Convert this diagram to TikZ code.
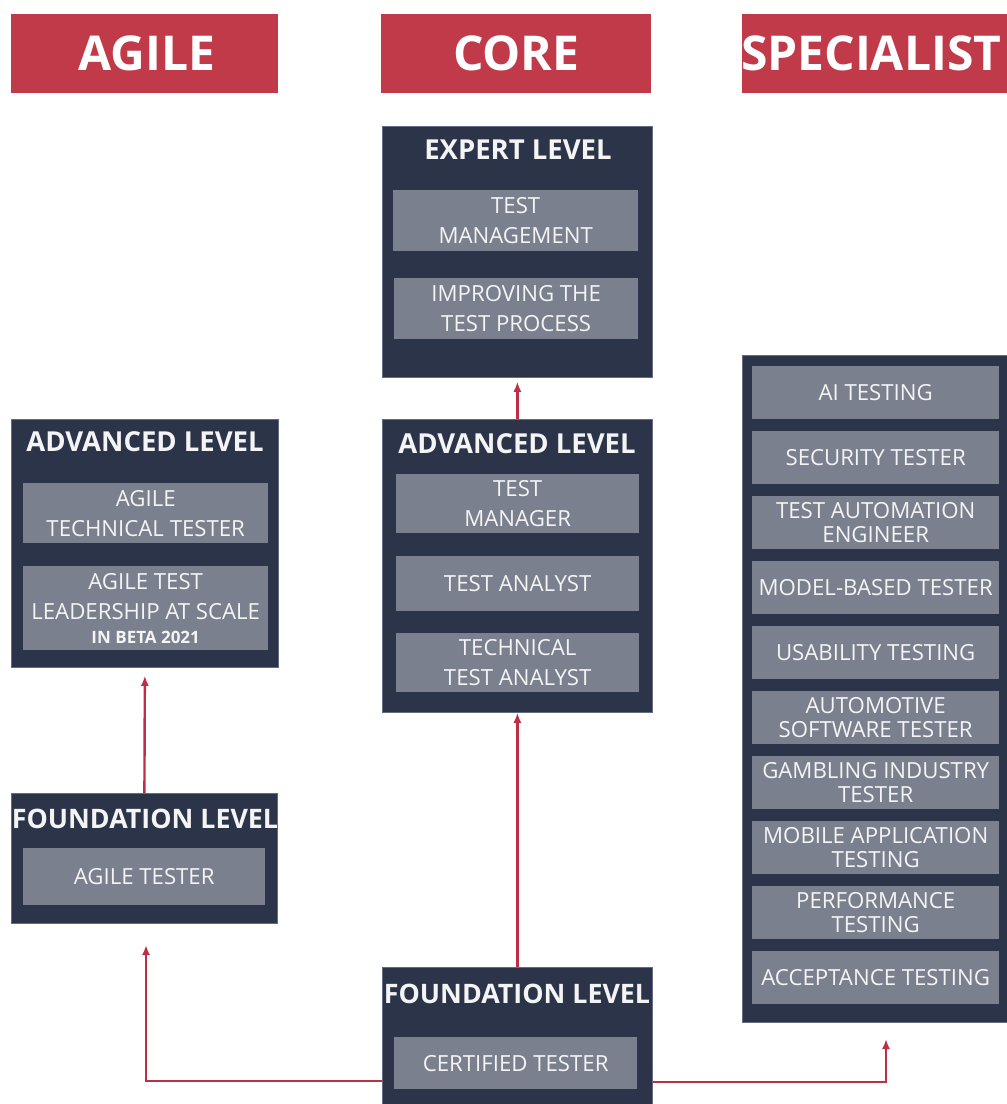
\documentclass[tikz,border=0pt]{standalone}
\usepackage{fontspec}
\setmainfont{Open Sans}
\usetikzlibrary{arrows.meta}
\definecolor{navy}{HTML}{2C3449}
\definecolor{navyedge}{HTML}{646B82}
\definecolor{slate}{HTML}{7B808E}
\definecolor{barred}{HTML}{C13A4A}
\definecolor{linkred}{HTML}{BE2E44}
\definecolor{txt}{HTML}{F4F4F4}
\begin{document}
\begin{tikzpicture}[x=1pt,y=-1pt,
  bar/.style={fill=barred, anchor=north west, inner sep=0pt, text=white,
    font=\bfseries\fontsize{48}{52}\selectfont},
  panel/.style={fill=navy, draw=navyedge, line width=0.8pt, anchor=north west, inner sep=0pt},
  hdr/.style={text=txt, inner sep=0pt, font=\bfseries\fontsize{27.5}{31}\selectfont},
  fhdr/.style={hdr, font=\bfseries\fontsize{26.8}{31}\selectfont},
  item/.style={fill=slate, anchor=north west, inner sep=0pt, text=txt, align=center,
    font=\fontsize{22.2}{30}\selectfont},
  spitem/.style={item, minimum width=247pt, minimum height=53pt,
    font=\fontsize{22.2}{24}\selectfont},
  arr/.style={draw=linkred, line width=2.4pt, -{Latex[length=10pt,width=8pt]}}]
\useasboundingbox (0,0) rectangle (1007,1104);
\fill[white] (0,0) rectangle (1007,1104);

% header bars
\node[bar, minimum width=267pt, minimum height=79pt] (bagile) at (11,14) {\hspace*{4pt}AGILE};
\node[bar, minimum width=270pt, minimum height=79pt] (bcore) at (381,14) {CORE};
\node[bar, minimum width=270pt, minimum height=79pt] (bspec) at (742,14) {\hspace*{-6pt}SPECIALIST\hspace*{6pt}};

% expert level
\node[panel, minimum width=270pt, minimum height=251pt] (expert) at (382,126) {};
\node[hdr] (hexpert) at (518,150) {EXPERT LEVEL};
\node[item, minimum width=245pt, minimum height=61pt] (em) at (393,190) {TEST\\MANAGEMENT};
\node[item, minimum width=244pt, minimum height=61pt] (itp) at (394,278) {IMPROVING THE\\TEST PROCESS};

% core advanced level
\node[panel, minimum width=270pt, minimum height=293pt] (cadv) at (382,419) {};
\node[hdr] (hcadv) at (517,444) {ADVANCED LEVEL};
\node[item, minimum width=243pt, minimum height=59pt] (tm) at (396,474) {TEST\\MANAGER};
\node[item, minimum width=243pt, minimum height=55pt] (ta) at (396,556) {TEST ANALYST};
\node[item, minimum width=243pt, minimum height=59pt] (tta) at (396,633) {TECHNICAL\\TEST ANALYST};

% agile advanced level
\node[panel, minimum width=267pt, minimum height=248pt] (aadv) at (11,419) {};
\node[hdr] (haadv) at (145,442) {ADVANCED LEVEL};
\node[item, minimum width=245pt, minimum height=60pt] (att) at (23,483) {AGILE\\TECHNICAL TESTER};
\node[item, minimum width=245pt, minimum height=84pt] (atl) at (23,566)
  {AGILE TEST\\LEADERSHIP AT SCALE\\[-6pt]{\bfseries\fontsize{17}{19}\selectfont IN BETA 2021}};

% agile foundation level
\node[panel, minimum width=266pt, minimum height=130pt] (afound) at (11,793) {};
\node[fhdr] (hafound) at (145,819) {FOUNDATION LEVEL};
\node[item, minimum width=242pt, minimum height=57pt] (at) at (23,848) {AGILE TESTER};

% core foundation level
\node[panel, minimum width=270pt, minimum height=145pt] (cfound) at (382,967) {};
\node[fhdr] (hcfound) at (517,994) {FOUNDATION LEVEL};
\node[item, minimum width=243pt, minimum height=52pt] (ct) at (394,1037) {CERTIFIED TESTER};

% specialist
\node[panel, minimum width=275pt, minimum height=667pt] (spec) at (742,355) {};
\node[spitem] (s1) at (752,366) {AI TESTING};
\node[spitem] (s2) at (752,431) {SECURITY TESTER};
\node[spitem] (s3) at (752,496) {TEST AUTOMATION\\ENGINEER};
\node[spitem] (s4) at (752,561) {MODEL-BASED TESTER};
\node[spitem] (s5) at (752,626) {USABILITY TESTING};
\node[spitem] (s6) at (752,691) {AUTOMOTIVE\\SOFTWARE TESTER};
\node[spitem] (s7) at (752,756) {GAMBLING INDUSTRY\\TESTER};
\node[spitem] (s8) at (752,821) {MOBILE APPLICATION\\TESTING};
\node[spitem] (s9) at (752,886) {PERFORMANCE\\TESTING};
\node[spitem] (s10) at (752,951) {ACCEPTANCE TESTING};

% connectors
\coordinate (ltip) at (146,945);
\coordinate (rtip) at (886,1039);
\draw[arr] (cfound.west |- 0,1081) -| (ltip);
\draw[arr] (cfound.east |- 0,1082) -| (rtip);
\draw[arr] (cfound.north) -- (cadv.south);
\draw[arr, shorten >=4pt] (cadv.north) -- (expert.south);
\draw[arr, shorten >=8pt] (afound.north) -- (aadv.south);
\end{tikzpicture}
\end{document}
